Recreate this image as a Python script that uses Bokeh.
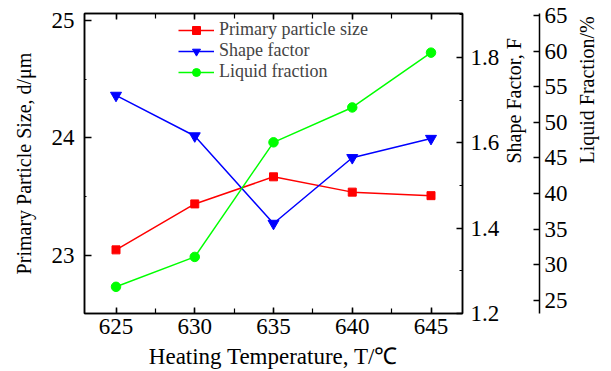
import math
from bokeh.plotting import figure
from bokeh.models import (Range1d, LinearAxis, SingleIntervalTicker,
                          Legend, LegendItem)
from bokeh.embed import file_html
from bokeh.resources import INLINE

# ---- data ----
temps = [625, 630, 635, 640, 645]
particle_size = [23.05, 23.44, 23.67, 23.54, 23.51]
shape_factor = [1.711, 1.616, 1.411, 1.565, 1.610]
liquid_fraction = [26.9, 31.1, 47.2, 52.1, 59.8]

x_label = "Heating Temperature, T/℃"
y_label = "Primary Particle Size, d/μm"
sf_label = "Shape Factor, F"
lf_label = "Liquid Fraction/%"
series_names = ["Primary particle size", "Shape factor", "Liquid fraction"]

FONT = "Liberation Serif"

p = figure(width=611, height=371, output_backend="svg", toolbar_location=None,
           x_range=Range1d(623, 647), y_range=Range1d(22.51, 25.056),
           min_border_left=84, min_border_right=147, min_border_top=13,
           min_border_bottom=56)
p.extra_y_ranges = {"sf": Range1d(1.2, 1.903), "lf": Range1d(23.15, 65.3)}

p.xgrid.visible = False
p.ygrid.visible = False
p.outline_line_color = "black"
p.outline_line_width = 1.5
p.background_fill_color = "white"
p.border_fill_color = "white"


def style_axis(ax, maj_in=6, min_in=4):
    ax.major_tick_in = maj_in
    ax.major_tick_out = 0
    ax.minor_tick_in = min_in
    ax.minor_tick_out = 0
    ax.axis_line_width = 1.5
    ax.major_tick_line_width = 1.5
    ax.minor_tick_line_width = 1.2
    ax.axis_line_color = "black"
    ax.major_tick_line_color = "black"
    ax.minor_tick_line_color = "black"
    ax.major_label_text_font = FONT
    ax.major_label_text_font_size = "23px"
    ax.major_label_text_color = "black"
    ax.axis_label_text_font = FONT
    ax.axis_label_text_font_size = "20px"
    ax.axis_label_text_font_style = "normal"
    ax.axis_label_text_color = "black"


# bottom axis
xa = p.xaxis[0]
xa.ticker = SingleIntervalTicker(interval=5, num_minor_ticks=2)
style_axis(xa, 6, 5)
xa.axis_label = x_label
xa.axis_label_text_font_size = "23px"
xa.major_label_standoff = 5
xa.axis_label_standoff = 7

# left axis
ya = p.yaxis[0]
ya.ticker = SingleIntervalTicker(interval=1, num_minor_ticks=2)
style_axis(ya, 7, 2)
ya.axis_label = y_label
ya.major_label_standoff = 10
ya.axis_label_standoff = 14

# top mirror axis (ticks only)
top = LinearAxis(ticker=SingleIntervalTicker(interval=5, num_minor_ticks=2))
style_axis(top, 6, 5)
top.major_label_text_font_size = "0px"
top.major_label_text_color = None
top.major_label_standoff = 0
p.add_layout(top, "above")

# right axis: shape factor
sf = LinearAxis(y_range_name="sf",
                ticker=SingleIntervalTicker(interval=0.2, num_minor_ticks=2))
style_axis(sf, 6, 3)
sf.axis_label = sf_label
sf.major_label_standoff = 8
sf.axis_label_standoff = 12
sf.axis_label_orientation = math.pi / 2
sf.axis_label_text_align = "center"
p.add_layout(sf, "right")

# right axis: liquid fraction
lf = LinearAxis(y_range_name="lf",
                ticker=SingleIntervalTicker(interval=5, num_minor_ticks=0))
style_axis(lf, 6, 0)
lf.axis_label = lf_label
lf.major_label_standoff = 5
lf.axis_label_standoff = 16
lf.axis_label_orientation = math.pi / 2
lf.axis_label_text_align = "center"
p.add_layout(lf, "right")

# ---- series ----
r1l = p.line(temps, particle_size, line_color="#FF0000", line_width=1.5)
r1m = p.scatter(temps, particle_size, marker="square", size=8,
                fill_color="#FF0000", line_color="#FF0000")
r2l = p.line(temps, shape_factor, line_color="#0000FF", line_width=1.5,
             y_range_name="sf")
r2m = p.scatter(temps, shape_factor, marker="inverted_triangle", size=11,
                fill_color="#0000FF", line_color="#0000FF", y_range_name="sf")
r3l = p.line(temps, liquid_fraction, line_color="#00FF00", line_width=1.5,
             y_range_name="lf")
r3m = p.scatter(temps, liquid_fraction, marker="circle", size=9.5,
                fill_color="#00FF00", line_color="#00FF00", y_range_name="lf")

legend = Legend(items=[
    LegendItem(label=series_names[0], renderers=[r1l, r1m]),
    LegendItem(label=series_names[1], renderers=[r2l, r2m]),
    LegendItem(label=series_names[2], renderers=[r3l, r3m]),
], location=(94, 231))
legend.border_line_color = None
legend.background_fill_alpha = 0
legend.label_text_font = FONT
legend.label_text_font_size = "18px"
legend.glyph_width = 36
legend.glyph_height = 20
legend.label_height = 20
legend.label_standoff = 5
legend.padding = 0
legend.spacing = 0
legend.margin = 0
p.add_layout(legend)

open("out.html", "w").write(file_html(p, INLINE))
